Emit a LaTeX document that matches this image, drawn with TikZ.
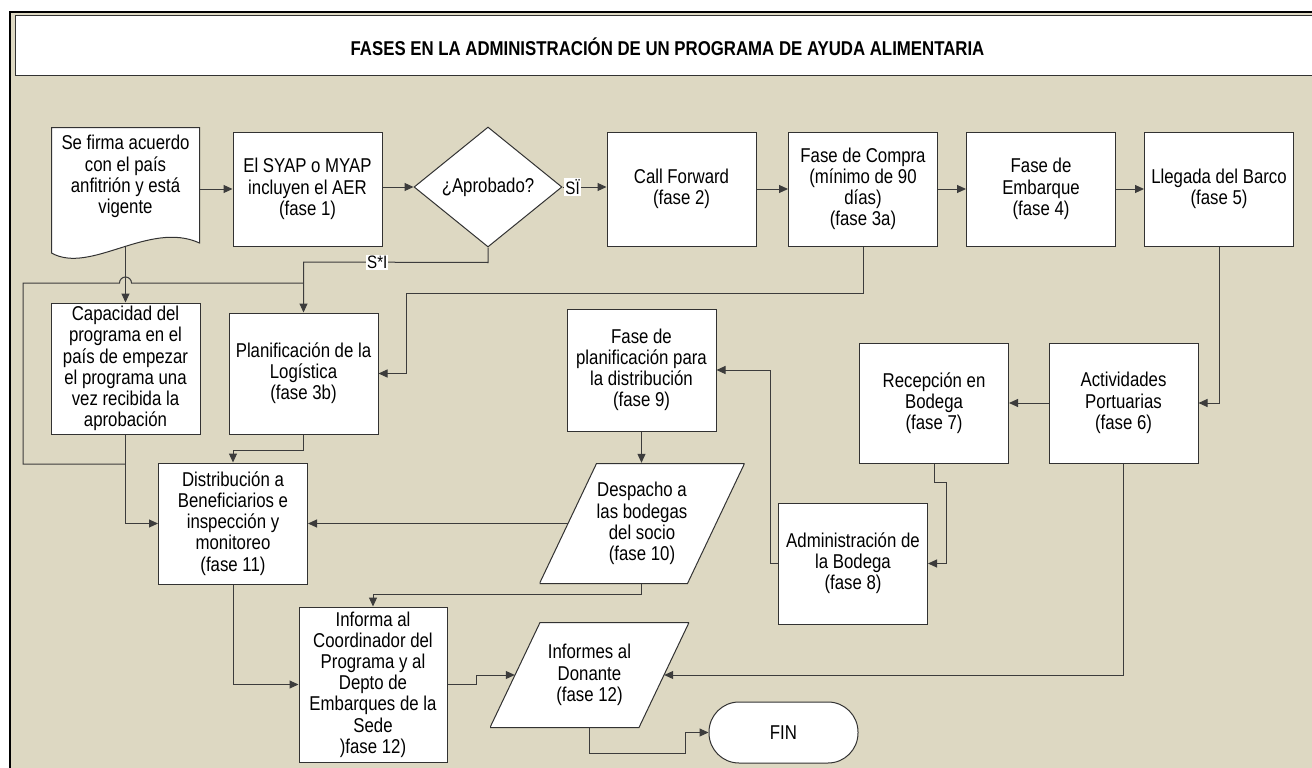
\documentclass[tikz,border=0pt]{standalone}
\usepackage{fontspec}
\setmainfont{Liberation Sans}[FakeStretch=0.84]
\usetikzlibrary{arrows.meta,shapes.geometric}

\definecolor{paper}{RGB}{221,216,194}
\definecolor{boxline}{RGB}{50,50,50}
\definecolor{wireline}{RGB}{60,60,60}

\begin{document}
\begin{tikzpicture}[x=1pt,y=-1pt,
    every node/.style={font=\fontsize{20pt}{21.2pt}\selectfont},
    phase/.style={rectangle, draw=boxline, fill=white, line width=1pt,
      align=center, inner sep=1pt, minimum width=149pt},
    check/.style={diamond, aspect=1.23, draw=boxline, fill=white,
      line width=1pt, inner sep=0pt, minimum width=148pt, minimum height=120pt},
    para/.style={rectangle, align=center, inner sep=0pt,
      path picture={\draw[boxline, fill=white, line width=1pt]
        ([xshift=#1pt,yshift=-0.5pt]path picture bounding box.north west)
        -- ([yshift=-0.5pt]path picture bounding box.north east)
        -- ([xshift=-#1pt,yshift=0.5pt]path picture bounding box.south east)
        -- ([yshift=0.5pt]path picture bounding box.south west) -- cycle;}},
    docshape/.style={rectangle, align=center, inner sep=1pt,
      minimum width=149pt, minimum height=132pt,
      path picture={\draw[boxline, fill=white, line width=1pt]
        ([xshift=0.5pt,yshift=-0.5pt]path picture bounding box.north west)
        -- ([xshift=-0.5pt,yshift=-0.5pt]path picture bounding box.north east)
        -- ([xshift=-0.5pt,yshift=16pt]path picture bounding box.south east)
        .. controls +(-50pt,23pt) and +(39pt,-22pt)
        .. ([xshift=0.5pt,yshift=6pt]path picture bounding box.south west)
        -- cycle;}},
    endcap/.style={rectangle, rounded corners=30pt, draw=boxline, fill=white,
      line width=1pt, minimum width=149pt, minimum height=61pt},
    arr/.style={draw=wireline, line width=1pt, -{Triangle[length=9pt,width=8pt]}},
    wire/.style={draw=wireline, line width=1pt},
    tag/.style={fill=white, inner sep=1pt, font=\fontsize{18pt}{18pt}\selectfont}]

  \useasboundingbox (0,0) rectangle (1312,768);
  \fill[white] (0,0) rectangle (1312,768);
  \draw[line width=1.5pt, fill=paper] (10,12) rectangle (1340,800);
  \draw[boxline, line width=1pt, fill=white] (15,16) rectangle (1335,76);
  \node (title) at (667.5,47)
    {\bfseries\fontsize{20pt}{21pt}\selectfont FASES EN LA ADMINISTRACIÓN DE UN PROGRAMA DE AYUDA ALIMENTARIA};

  % top row
  \node[docshape] (sign) at (125.5,193) {Se firma acuerdo\\con el país\\anfitrión y está\\vigente\\[16pt]\mbox{}};
  \node[phase, minimum height=114pt] (syap) at (307.5,189) {El SYAP o MYAP\\incluyen el AER\\(fase 1)};
  \node[check] (ok) at (488,187) {¿Aprobado?};
  \node[phase, minimum height=114pt] (call) at (681.5,189) {Call Forward\\(fase 2)};
  \node[phase, minimum height=114pt] (buy) at (863,189) {Fase de Compra\\(mínimo de 90\\días)\\(fase 3a)};
  \node[phase, minimum height=114pt] (ship) at (1041,189) {Fase de\\Embarque\\(fase 4)};
  \node[phase, minimum height=114pt] (boat) at (1219,189) {Llegada del Barco\\(fase 5)};

  % middle
  \node[phase, minimum height=131pt] (cap) at (125.5,368.5) {Capacidad del\\programa en el\\país de empezar\\el programa una\\vez recibida la\\aprobación};
  \node[phase, minimum height=121pt] (logi) at (303.5,373.5) {Planificación de la\\Logística\\(fase 3b)};
  \node[phase, minimum height=122pt] (plan) at (641.5,370) {Fase de\\planificación para\\la distribución\\(fase 9)};
  \node[phase, minimum height=120pt] (recv) at (934,403) {Recepción en\\Bodega\\(fase 7)};
  \node[phase, minimum height=120pt] (port) at (1123.5,403) {Actividades\\Portuarias\\(fase 6)};
  \node[phase, minimum height=121pt] (dist) at (233,523.5) {Distribución a\\Beneficiarios e\\inspección y\\monitoreo\\(fase 11)};
  \node[para=57, minimum width=205pt, minimum height=121pt] (send) at (642,523.5) {Despacho a\\las bodegas\\del socio\\(fase 10)};
  \node[phase, minimum height=121pt] (store) at (853,563.5) {Administración de\\la Bodega\\(fase 8)};

  % bottom
  \node[phase, minimum width=148pt, minimum height=155pt] (hq) at (373,684.5) {Informa al\\Coordinador del\\Programa y al\\Depto de\\Embarques de la\\Sede\\)fase 12)};
  \node[para=50, minimum width=199pt, minimum height=106pt] (donor) at (589.5,675) {Informes al\\Donante\\(fase 12)};
  \node[endcap] (fin) at (783.5,732.5) {FIN};

  \coordinate (merge) at (125.5,464);

  \draw[arr] (sign.east |- syap.west) -- (syap.west);
  \draw[arr] (syap.east |- ok.west) -- (ok.west);
  \draw[arr] (ok.east) -- node[tag, pos=0.23] {SÏ} (ok.east -| call.west);
  \draw[arr] (call) -- (buy);
  \draw[arr] (buy) -- (ship);
  \draw[arr] (ship) -- (boat);
  \draw[arr] ([yshift=12pt]sign.south) -- (cap.north);
  \draw[arr] (ok.south) -- ++(0,15) -- node[tag, pos=0.6] {S*I} (logi.north |- 0,262) -- (logi.north);
  \draw[wire] (logi.north |- 0,283) -- (131.5,283) arc[start angle=0, end angle=180, radius=6pt]
    -- (23,283) -- (23,464) -- (merge);
  \draw[arr] (cap.south) |- (dist.west);
  \draw[arr] (logi.south) -- ++(0,16) -| (dist.north);
  \draw[arr] (buy.south) |- (406,293) |- (logi.east);
  \draw[arr] (boat.south) |- (port.east);
  \draw[arr] (port) -- (recv);
  \draw[arr] (recv.south) -- ++(0,19) -| ([xshift=18pt]store.east) -- (store.east);
  \draw[arr] (store.west) -- ++(-8,0) |- (plan.east);
  \draw[arr] (plan.south) -- (plan.south |- send.north);
  \draw[arr] ([xshift=28.5pt]send.west) -- (dist.east);
  \draw[arr] (plan.south |- send.south) -- ++(0,10) -| (hq.north);
  \draw[arr] (dist.south) |- (hq.west);
  \draw[arr] (hq.east) -- ++(29,0) |- ([xshift=25pt]donor.west);
  \draw[arr] (port.south) |- ([xshift=-25pt]donor.east);
  \draw[arr] (donor.south) -- ++(0,25) -| ([xshift=-23pt]fin.west) -- (fin.west);
\end{tikzpicture}
\end{document}
